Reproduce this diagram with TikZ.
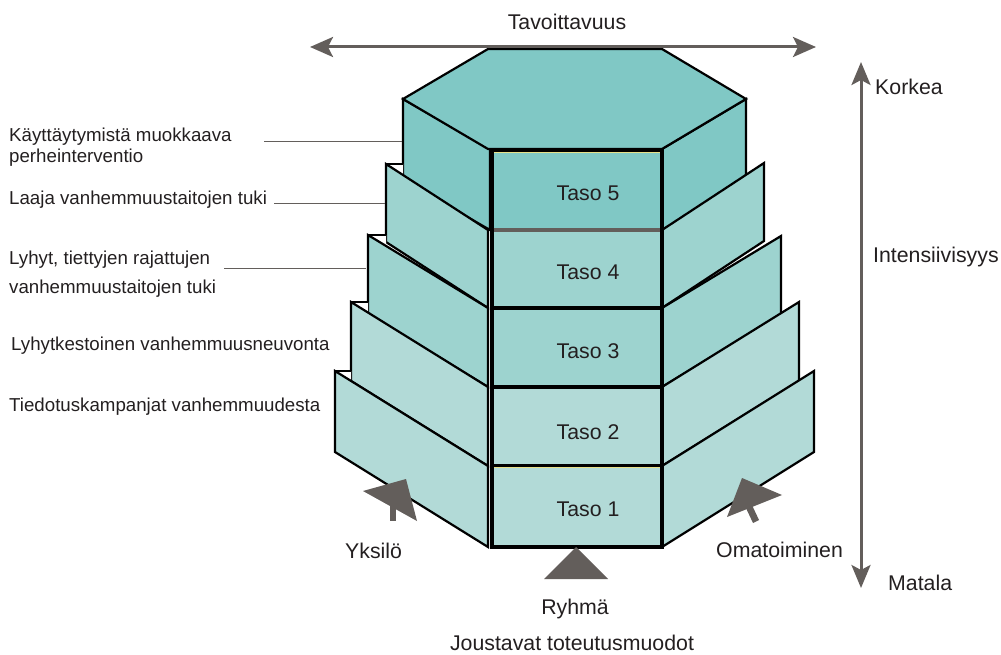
\documentclass[tikz,border=0pt]{standalone}
\usepackage{fontspec}
\setmainfont{Liberation Sans}
\usetikzlibrary{arrows.meta}

\definecolor{tealA}{HTML}{80C8C5}
\definecolor{tealB}{HTML}{9DD3CF}
\definecolor{tealC}{HTML}{B2DAD7}
\definecolor{arrowgray}{HTML}{635E5B}
\definecolor{inkdark}{HTML}{231F20}
\definecolor{rimyellow}{HTML}{E6E08A}

\tikzset{
  x=1pt, y=-1pt,
  panel/.style={draw=black, line width=2.2pt, line join=miter},
  colblock/.style={draw=black, line width=3.2pt},
  lbl/.style={font=\fontsize{18.7}{22}\selectfont, text=inkdark, inner sep=0pt, anchor=base west},
  big/.style={font=\fontsize{21.3}{25}\selectfont, text=inkdark, inner sep=0pt},
  leader/.style={draw=arrowgray, line width=1pt},
  axis/.style={draw=arrowgray, line width=3pt,
    {Stealth[length=23pt, width=20pt, inset=5pt]}-{Stealth[length=23pt, width=20pt, inset=5pt]}},
  pointer/.style={fill=arrowgray, draw=none},
}

\begin{document}
\begin{tikzpicture}
\useasboundingbox (0,0) rectangle (1001,655);

% ---- level 5: hexagonal top and its two side faces
\filldraw[panel, fill=tealA] (403,99) -- (490,149) -- (490,230) -- (403,180) -- cycle;
\filldraw[panel, fill=tealA] (746,99) -- (662,149) -- (662,230) -- (746,180) -- cycle;
\filldraw[panel, fill=tealA] (488,49) -- (662,49) -- (746,99) -- (662,149) -- (488,149) -- (403,99) -- cycle;

% ---- stepped side panels, from the top level down
% left panels: corner x, corner y, inner y, height, fill, x of the panel behind
\foreach \xl/\yt/\yc/\h/\fc/\xb in {386/164/230/78/tealB/403, 368/235/308/79/tealB/386,
                                  351/302/387/79/tealC/368, 335/371/466/81/tealC/351}{
  \fill[white] (\xl,\yt) -- (\xb,\yt) -- (\xb,{\yt+18}) -- cycle;
  \draw[panel] (\xl,\yt) -- (\xb,\yt);
  \filldraw[panel, fill=\fc] (\xl,\yt) -- (488,\yc) -- (488,{\yc+\h}) -- (\xl,{\yt+\h}) -- cycle;
}
% right panels
\foreach \xr/\yt/\yc/\h/\fc in {764/163/230/78/tealB, 781/236/308/79/tealB,
                              799/302/387/79/tealC, 814/371/466/81/tealC}{
  \filldraw[panel, fill=\fc] (\xr,\yt) -- (662,\yc) -- (662,{\yc+\h}) -- (\xr,{\yt+\h}) -- cycle;
}

% ---- front column with the five levels
\filldraw[colblock, fill=tealA] (492,150) rectangle (662,230);
\draw[rimyellow, line width=1.2pt] (494,152.5) -- (660,152.5);
\filldraw[colblock, fill=tealB] (492,230) rectangle (662,308);
\filldraw[colblock, fill=tealB] (492,308) rectangle (662,387);
\filldraw[colblock, fill=tealC] (492,387) rectangle (662,466);
\filldraw[colblock, fill=tealC] (492,466) rectangle (662,547);
\draw[black, line width=2pt] (492,466) -- (662,466);
\draw[rimyellow, line width=0.8pt] (494,467.6) -- (660,467.6);
\draw[arrowgray, line width=3.6pt] (493.6,230) -- (660.4,230);

\node[big, anchor=base] (t5) at (588,201) {Taso 5};
\node[big, anchor=base] (t4) at (588,279) {Taso 4};
\node[big, anchor=base] (t3) at (588,358) {Taso 3};
\node[big, anchor=base] (t2) at (588,439) {Taso 2};
\node[big, anchor=base] (t1) at (588,516) {Taso 1};

% ---- reach axis on top
\coordinate (reachL) at (310,47);
\coordinate (reachR) at (816,47);
\draw[axis] (reachL) -- (reachR);
\node[big, anchor=base] (reach) at (567,30) {Tavoittavuus};

% ---- intensity axis on the right
\coordinate (intTop) at (861,62);
\coordinate (intBot) at (861,588);
\draw[axis, {Stealth[length=23pt, width=19pt, inset=5pt]}-{Stealth[length=23pt, width=19pt, inset=5pt]}] (intTop) -- (intBot);
\node[big, anchor=base west] (high) at (875,95) {Korkea};
\node[big, anchor=base west] (intens) at (873,262) {Intensiivisyys};
\node[big, anchor=base west] (low) at (888,590) {Matala};

% ---- delivery-mode pointers
\fill[pointer] (389.5,521) rectangle (395.5,505);
\fill[pointer] (363,491) -- (406,479) -- (417,521) -- cycle;
\fill[pointer] (753,523) -- (759,520) -- (751,503) -- (745,506) -- cycle;
\fill[pointer] (727,517) -- (742,478) -- (782,495) -- cycle;
\fill[pointer] (576,547) -- (608,579) -- (544,579) -- cycle;

\node[big, anchor=base west] (indiv) at (345,558) {Yksilö};
\node[big, anchor=base west] (self) at (716,557) {Omatoiminen};
\node[big, anchor=base] (group) at (575,614) {Ryhmä};
\node[big, anchor=base] (flex) at (572,650) {Joustavat toteutusmuodot};

% ---- level descriptions on the left
\node[lbl] (d5a) at (9,142) {Käyttäytymistä muokkaava};
\node[lbl] (d5b) at (9,163) {perheinterventio};
\node[lbl] (d4) at (9,205) {Laaja vanhemmuustaitojen tuki};
\node[lbl] (d3a) at (9,264) {Lyhyt, tiettyjen rajattujen};
\node[lbl] (d3b) at (9,293) {vanhemmuustaitojen tuki};
\node[lbl] (d2) at (11,350) {Lyhytkestoinen vanhemmuusneuvonta};
\node[lbl] (d1) at (9,411) {Tiedotuskampanjat vanhemmuudesta};

\coordinate (e5) at (402,142);
\coordinate (e4) at (385,204);
\coordinate (e3) at (366,268);
\draw[leader] (264,142) -- (e5);
\draw[leader] (274,204) -- (e4);
\draw[leader] (224,268) -- (e3);

\end{tikzpicture}
\end{document}
